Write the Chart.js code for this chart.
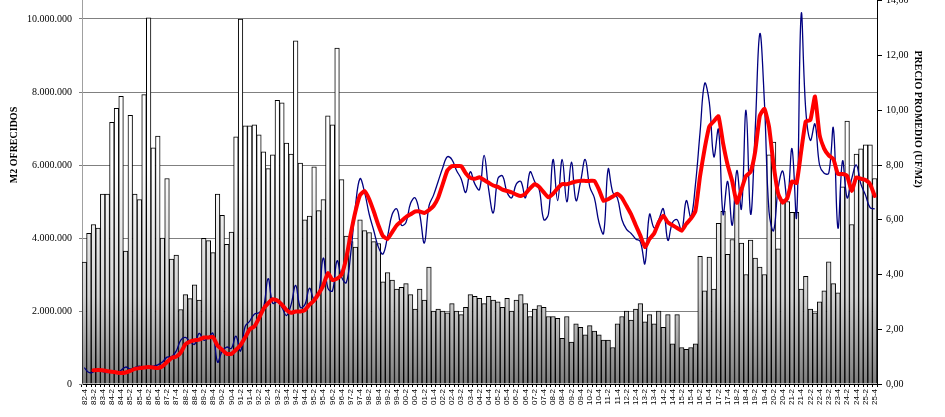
<!DOCTYPE html>
<html>
<head>
<meta charset="utf-8">
<script src="https://cdn.jsdelivr.net/npm/chart.js@4.4.1/dist/chart.umd.min.js"></script>
<style>
  html, body { margin: 0; padding: 0; background: #fff; overflow: hidden; }
  #wrap { position: relative; width: 945px; height: 417px; overflow: hidden; }
  #grafico { position: absolute; left: 0; top: -67px; }
</style>
</head>
<body>
<div id="wrap"><canvas id="grafico" width="945" height="484"></canvas></div>
<script>
// the reference is a crop: the top of the plot (12.000.000 / 16,00) sits above the window
const OFFSET_TOP = 67;

const trimestres = [
  "82-4",
  "83-1","83-2","83-3","83-4","84-1","84-2","84-3","84-4","85-1","85-2","85-3","85-4",
  "86-1","86-2","86-3","86-4","87-1","87-2","87-3","87-4","88-1","88-2","88-3","88-4",
  "89-1","89-2","89-3","89-4","90-1","90-2","90-3","90-4","91-1","91-2","91-3","91-4",
  "92-1","92-2","92-3","92-4","93-1","93-2","93-3","93-4","94-1","94-2","94-3","94-4",
  "95-1","95-2","95-3","95-4","96-1","96-2","96-3","96-4","97-1","97-2","97-3","97-4",
  "98-1","98-2","98-3","98-4","99-1","99-2","99-3","99-4","00-1","00-2","00-3","00-4",
  "01-1","01-2","01-3","01-4","02-1","02-2","02-3","02-4","03-1","03-2","03-3","03-4",
  "04-1","04-2","04-3","04-4","05-1","05-2","05-3","05-4","06-1","06-2","06-3","06-4",
  "07-1","07-2","07-3","07-4","08-1","08-2","08-3","08-4","09-1","09-2","09-3","09-4",
  "10-1","10-2","10-3","10-4","11-1","11-2","11-3","11-4","12-1","12-2","12-3","12-4",
  "13-1","13-2","13-3","13-4","14-1","14-2","14-3","14-4","15-1","15-2","15-3","15-4",
  "16-1","16-2","16-3","16-4","17-1","17-2","17-3","17-4","18-1","18-2","18-3","18-4",
  "19-1","19-2","19-3","19-4","20-1","20-2","20-3","20-4","21-1","21-2","21-3","21-4",
  "22-1","22-2","22-3","22-4","23-1","23-2","23-3","23-4","24-1","24-2","24-3","24-4",
  "25-1","25-2","25-3","25-4"
];

// m2 ofrecidos por trimestre
const m2Ofrecidos = [
  3340000, 4130000, 4370000, 4270000, 5200000, 5200000, 7170000, 7550000, 7880000, 3640000,
  7360000, 5200000, 5050000, 7930000, 10030000, 6470000, 6790000, 4000000, 5630000, 3420000,
  3530000, 2040000, 2450000, 2340000, 2720000, 2300000, 3990000, 3930000, 3600000, 5200000,
  4620000, 3830000, 4160000, 6770000, 10000000, 7070000, 7070000, 7100000, 6830000, 6360000,
  5900000, 6280000, 7770000, 7700000, 6600000, 6300000, 9400000, 6050000, 4500000, 4600000,
  5950000, 4750000, 5050000, 7350000, 7100000, 9200000, 5600000, 4050000, 3900000, 3750000,
  4500000, 4200000, 4150000, 3900000, 3850000, 2800000, 3050000, 2850000, 2600000, 2650000,
  2750000, 2450000, 2050000, 2600000, 2300000, 3200000, 2000000, 2050000, 2000000, 1950000,
  2200000, 2000000, 1900000, 2100000, 2450000, 2400000, 2350000, 2200000, 2400000, 2300000,
  2250000, 2100000, 2350000, 2000000, 2300000, 2450000, 2200000, 1850000, 2050000, 2150000,
  2100000, 1850000, 1850000, 1800000, 1250000, 1850000, 1150000, 1650000, 1550000, 1350000,
  1600000, 1450000, 1350000, 1200000, 1200000, 1000000, 1650000, 1850000, 2000000, 1750000,
  2050000, 2200000, 1700000, 1900000, 1650000, 2000000, 1550000, 1900000, 1100000, 1900000,
  1000000, 950000, 1000000, 1100000, 3500000, 2550000, 3480000, 2600000, 4400000, 4730000,
  3550000, 3960000, 5000000, 3860000, 3000000, 3940000, 3450000, 3200000, 3000000, 6280000,
  6630000, 3700000, 5050000, 5000000, 4700000, 4700000, 2600000, 2950000, 2050000, 1950000,
  2250000, 2550000, 3350000, 2750000, 2500000, 5400000, 7200000, 4370000, 6300000, 6440000,
  6550000, 6550000, 5630000
];

// precio promedio (UF/m2)
const precioPromedio = [
  0.6, 0.42, 0.44, 0.52, 0.45, 0.42, 0.45, 0.4, 0.5, 0.62,
  0.55, 0.6, 0.65, 0.6, 0.62, 0.65, 0.7, 0.8, 0.98, 1.0,
  1.2, 1.6, 1.7, 1.55, 1.45, 1.85, 1.6, 1.7, 1.85, 0.8,
  1.2, 1.35, 1.3, 1.75, 1.2, 2.1, 2.3, 2.55, 2.6, 2.8,
  3.85, 2.95, 3.0, 2.8, 2.5, 2.9, 3.6, 2.8, 2.9, 3.5,
  3.1, 3.3, 4.6, 3.5, 3.4, 4.5, 3.9, 3.7, 4.8, 6.5,
  7.5, 7.0, 6.2, 5.6, 5.0, 4.75, 5.4, 6.2, 6.4, 5.8,
  5.9, 6.6, 6.8, 6.2, 5.15, 6.5, 6.9, 7.4, 7.9, 8.3,
  8.2, 7.8, 7.5, 7.0, 7.75, 7.3, 7.1, 8.35, 7.1, 6.25,
  7.5, 7.6, 7.0, 6.8, 7.3, 7.4, 6.8, 7.75, 7.4, 7.1,
  6.0, 6.2, 8.2, 6.7, 8.2, 6.65, 8.1, 6.7, 7.4, 8.2,
  7.2, 6.8, 5.9, 5.5, 7.85, 7.0, 6.8, 6.0, 5.65, 5.5,
  5.3, 5.2, 4.4, 6.2, 5.7, 6.0, 6.4, 5.25, 5.9, 6.0,
  5.6, 6.7, 6.1, 7.3, 9.2, 10.98, 10.3, 8.3, 9.3, 6.2,
  7.4, 5.8, 7.8, 6.4, 10.0, 6.2, 9.3, 12.8, 10.3, 6.3,
  5.6, 7.16, 7.78, 6.7, 8.6, 6.1, 13.5, 10.0, 8.9, 9.5,
  8.0, 7.7, 7.7, 9.35, 5.7, 8.15, 6.8, 7.5, 8.0, 7.3,
  6.9, 6.44, 6.4
];

// promedio movil del precio
const precioMovil = [
  null, null, 0.5, 0.51, 0.5, 0.47, 0.45, 0.42, 0.4, 0.42,
  0.48, 0.55, 0.58, 0.6, 0.62, 0.6, 0.58, 0.65, 0.8, 0.95,
  1.0, 1.15, 1.45, 1.55, 1.6, 1.62, 1.7, 1.7, 1.72, 1.4,
  1.25, 1.1, 1.1, 1.25, 1.42, 1.7, 2.0, 2.1, 2.4, 2.75,
  2.95, 3.1, 3.05, 2.9, 2.7, 2.6, 2.65, 2.65, 2.7, 2.9,
  3.05, 3.3, 3.6, 4.05, 3.8, 3.85, 4.0, 4.6, 5.5, 6.3,
  6.9, 7.05, 6.75, 6.3, 5.8, 5.4, 5.3, 5.55, 5.8, 5.95,
  6.1, 6.2, 6.3, 6.3, 6.25, 6.35, 6.5, 6.8, 7.3, 7.8,
  7.96, 7.96, 7.96, 7.7, 7.53, 7.5, 7.55, 7.45, 7.35, 7.25,
  7.2, 7.1, 7.05, 7.0, 6.92, 6.87, 6.95, 7.15, 7.3, 7.2,
  7.0, 6.82, 6.95, 7.15, 7.3, 7.3, 7.35, 7.4, 7.42, 7.42,
  7.42, 7.42, 7.1, 6.69, 6.75, 6.85, 6.95, 6.8, 6.5, 6.2,
  5.8, 5.42, 5.0, 5.3, 5.5, 5.9, 6.15, 5.9, 5.8, 5.7,
  5.6, 5.85, 6.04, 6.33, 7.6, 8.6, 9.4, 9.6, 9.78, 8.8,
  8.0, 7.4, 6.62, 7.1, 7.6, 7.75, 8.5, 9.8, 10.05, 9.4,
  8.0, 6.95, 6.62, 6.8, 7.4, 7.35, 8.5, 9.6, 9.64, 10.5,
  9.1, 8.6, 8.35, 8.22, 7.67, 7.67, 7.6, 7.05, 7.55, 7.5,
  7.45, 7.3, 6.87
];

const serif = "'Liberation Serif', 'Times New Roman', serif";

function miles(v) {
  return String(v).replace(/\B(?=(\d{3})+(?!\d))/g, ".");
}

let gradCache = null;
function barFill(ctx) {
  const chart = ctx.chart;
  const area = chart.chartArea;
  if (!area) return "#cccccc";
  if (gradCache && gradCache.key === area.top + "-" + area.bottom) return gradCache.g;
  const g = chart.ctx.createLinearGradient(0, area.top, 0, area.bottom);
  g.addColorStop(0, "#ffffff");
  g.addColorStop(0.5, "#ffffff");
  g.addColorStop(0.8, "#d2d2d2");
  g.addColorStop(1, "#7e7e7e");
  gradCache = { key: area.top + "-" + area.bottom, g: g };
  return g;
}

const axisTitles = {
  id: "axisTitles",
  afterDraw(chart) {
    const c = chart.ctx;
    c.save();
    c.fillStyle = "#000";
    c.font = "bold 10px " + serif;
    c.textAlign = "center";
    c.textBaseline = "middle";
    c.translate(14, 145 + OFFSET_TOP);
    c.rotate(-Math.PI / 2);
    c.fillText("M2 OFRECIDOS", 0, 0);
    c.restore();
    c.save();
    c.fillStyle = "#000";
    c.font = "bold 10px " + serif;
    c.textAlign = "center";
    c.textBaseline = "middle";
    c.translate(918, 119 + OFFSET_TOP);
    c.rotate(Math.PI / 2);
    c.fillText("PRECIO PROMEDIO (UF/M2)", 0, 0);
    c.restore();
  }
};

new Chart(document.getElementById("grafico"), {
  type: "bar",
  data: {
    labels: trimestres,
    datasets: [
      {
        type: "line",
        label: "Promedio movil",
        data: precioMovil,
        yAxisID: "y1",
        borderColor: "#ff0000",
        borderWidth: 4,
        tension: 0.15,
        pointRadius: 0,
        borderJoinStyle: "round",
        borderCapStyle: "round",
        order: 0
      },
      {
        type: "line",
        label: "Precio promedio",
        data: precioPromedio,
        yAxisID: "y1",
        borderColor: "#000080",
        borderWidth: 1.3,
        tension: 0.4,
        pointRadius: 0,
        order: 1
      },
      {
        type: "bar",
        label: "M2 ofrecidos",
        data: m2Ofrecidos,
        yAxisID: "y",
        backgroundColor: barFill,
        borderColor: "#000",
        borderWidth: 1,
        barPercentage: 1,
        categoryPercentage: 1,
        order: 2
      }
    ]
  },
  options: {
    responsive: false,
    animation: false,
    layout: { padding: { top: 10, left: 0, right: 0, bottom: 0 } },
    plugins: { legend: { display: false }, tooltip: { enabled: false } },
    scales: {
      x: {
        offset: true,
        grid: { display: true, drawOnChartArea: false, color: "#000", tickLength: 3, offset: true },
        border: { color: "#000" },
        ticks: {
          autoSkip: false,
          minRotation: 90,
          maxRotation: 90,
          padding: 2,
          color: "#000",
          font: { family: "'Liberation Sans', Arial, sans-serif", size: 8 },
          callback: function (value, index) {
            return index % 2 === 0 ? trimestres[index] : "";
          }
        },
        afterFit: function (scale) { scale.height = 33; }
      },
      y: {
        position: "left",
        min: 0,
        max: 12000000,
        ticks: {
          stepSize: 2000000,
          color: "#000",
          padding: 7,
          font: { family: serif, size: 10 },
          callback: function (v) { return miles(v); }
        },
        grid: { color: "#808080", tickLength: 3 },
        border: { color: "#a0a0a0" },
        afterFit: function (scale) { scale.width = 82; }
      },
      y1: {
        position: "right",
        min: 0,
        max: 16,
        ticks: {
          stepSize: 2,
          color: "#000",
          padding: 4,
          font: { family: serif, size: 10 },
          callback: function (v) { return v.toFixed(2).replace(".", ","); }
        },
        grid: { drawOnChartArea: false, color: "#000", tickLength: 5 },
        border: { color: "#000" },
        afterFit: function (scale) { scale.width = 68; }
      }
    }
  },
  plugins: [axisTitles]
});
</script>
</body>
</html>
